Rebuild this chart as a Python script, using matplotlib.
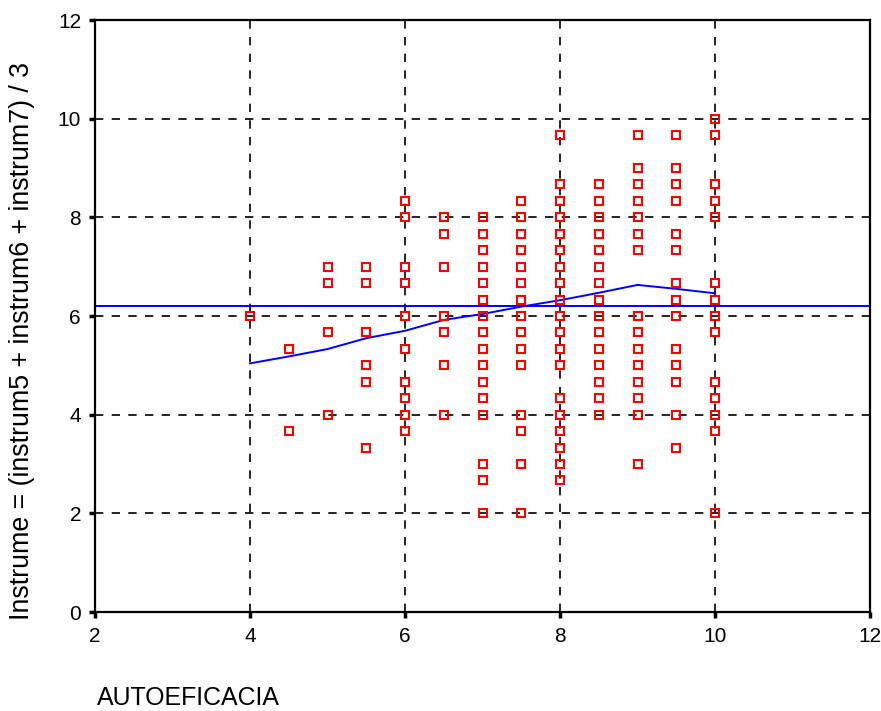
import matplotlib
matplotlib.use("Agg")
import matplotlib.pyplot as plt

x4 = [6.0]
x4_5 = [5.33, 3.67]
x5 = [7.0, 6.67, 5.67, 4.0]
x5_5 = [7.0, 6.67, 5.67, 5.0, 4.67, 3.33]
x6 = [8.33, 8.0, 7.0, 6.67, 6.0, 5.33, 4.67, 4.33, 4.0, 3.67]
x6_5 = [8.0, 7.67, 7.0, 6.0, 5.67, 5.0, 4.0]
x7 = [8.0, 7.67, 7.33, 7.0, 6.67, 6.33, 6.0, 5.67, 5.33, 5.0, 4.67, 4.33, 4.0, 3.0, 2.67, 2.0]
x7_5 = [8.33, 8.0, 7.67, 7.33, 7.0, 6.67, 6.33, 6.0, 5.67, 5.33, 5.0, 4.0, 3.67, 3.0, 2.0]
x8 = [9.67, 8.67, 8.33, 8.0, 7.67, 7.33, 7.0, 6.67, 6.33, 6.0, 5.67, 5.33, 5.0, 4.33, 4.0, 3.67, 3.33, 3.0, 2.67]
x8_5 = [8.67, 8.33, 8.0, 7.67, 7.33, 7.0, 6.67, 6.33, 6.0, 5.67, 5.33, 5.0, 4.67, 4.33, 4.0]
x9 = [9.67, 9.0, 8.67, 8.33, 8.0, 7.67, 7.33, 6.0, 5.67, 5.33, 5.0, 4.67, 4.33, 4.0, 3.0]
x9_5 = [9.67, 9.0, 8.67, 8.33, 7.67, 7.33, 6.67, 6.33, 6.0, 5.33, 5.0, 4.67, 4.0, 3.33]
x10 = [10.0, 9.67, 8.67, 8.33, 8.0, 6.67, 6.33, 6.0, 5.67, 4.67, 4.33, 4.0, 3.67, 2.0]

columns = {4.0: x4, 4.5: x4_5, 5.0: x5, 5.5: x5_5, 6.0: x6, 6.5: x6_5, 7.0: x7,
           7.5: x7_5, 8.0: x8, 8.5: x8_5, 9.0: x9, 9.5: x9_5, 10.0: x10}

fit_x = [4.0, 4.5, 5.0, 5.5, 6.0, 6.5, 7.0, 7.5, 8.0, 8.5, 9.0, 9.5, 10.0]
fit_y = [5.04, 5.18, 5.33, 5.55, 5.70, 5.92, 6.04, 6.19, 6.32, 6.47, 6.63, 6.55, 6.46]
mean_y = 6.21

xticks = [2, 4, 6, 8, 10, 12]
yticks = [0, 2, 4, 6, 8, 10, 12]

plt.rcParams['font.family'] = ['Liberation Sans', 'DejaVu Sans']

fig = plt.figure(figsize=(8.81, 7.11), dpi=100)
ax = fig.add_axes([95/881, 1-612/711, (870-95)/881, (612-20)/711])

for xv in [4, 6, 8, 10]:
    ax.axvline(xv, color='black', lw=1.2, ls=(0, (5, 5)), zorder=1)
for yv in [2, 4, 6, 8, 10]:
    ax.axhline(yv, color='black', lw=1.2, ls=(0, (5, 5)), zorder=1)

ax.axhline(mean_y, color='#0000ff', lw=1.4, zorder=2)
ax.plot(fit_x, fit_y, color='#0000ff', lw=1.4, zorder=2)

for xv, ys in columns.items():
    ax.plot([xv]*len(ys), ys, ls='none', marker='s', markersize=6,
            markerfacecolor='none', markeredgecolor='#ff0000', markeredgewidth=1.5, zorder=3)

ax.set_xlim(2, 12)
ax.set_ylim(0, 12)
ax.set_xticks(xticks)
ax.set_yticks(yticks)
ax.set_xticklabels([str(t) for t in xticks])
ax.set_yticklabels([str(t) for t in yticks])
ax.tick_params(direction='out', length=4, width=2.5, labelsize=15)
ax.tick_params(axis='x', pad=7)
ax.tick_params(axis='y', pad=6)
for s in ax.spines.values():
    s.set_linewidth(1.6)

fig.text(22/881, 1-341/711, 'Instrume = (instrum5 + instrum6 + instrum7) / 3', fontsize=19.3,
         rotation=90, ha='center', va='center')
fig.text(97/881, 1-698/711, 'AUTOEFICACIA', fontsize=17.9, ha='left', va='center')

fig.savefig('out.png', dpi=100)
